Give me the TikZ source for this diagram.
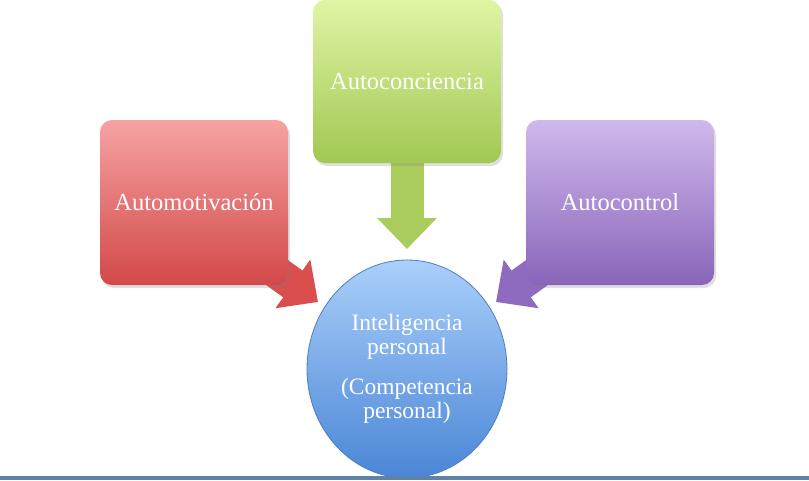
\documentclass[tikz,border=0pt]{standalone}
\usepackage{fontspec}
\setmainfont{Liberation Serif}
\usetikzlibrary{arrows.meta,shapes.geometric,shadows,backgrounds,calc}
\definecolor{redT}{HTML}{F6A3A3}
\definecolor{redB}{HTML}{D24848}
\definecolor{redA}{HTML}{DA4E4E}
\definecolor{grnT}{HTML}{DFF5A4}
\definecolor{grnB}{HTML}{A2C752}
\definecolor{grnA}{HTML}{A9CC5C}
\definecolor{purT}{HTML}{CFB9EC}
\definecolor{purB}{HTML}{8964B9}
\definecolor{purA}{HTML}{8F6BC0}
\definecolor{bluT}{HTML}{AACFFA}
\definecolor{bluB}{HTML}{4A86D6}
\definecolor{bluE}{HTML}{4F7FC0}
\definecolor{barC}{HTML}{5F82A8}
\tikzset{
  boxnode/.style={rectangle, rounded corners=12pt, inner sep=0pt,
    minimum width=188pt, text=white, font=\fontsize{24.5}{28}\selectfont,
    drop shadow={opacity=0.25, shadow xshift=2pt, shadow yshift=-3pt}},
  blockarrow/.style={line width=33pt,
    -{Triangle[length=31pt,width=58pt]}},
}
\begin{document}
\begin{tikzpicture}[x=1pt,y=-1pt]
\useasboundingbox (0,0) rectangle (809,480);
\clip (0,0) rectangle (809,480);

\node[boxnode, top color=grnT, bottom color=grnB, minimum height=163pt] (aware) at (407,81.5) {Autoconciencia};
\node[boxnode, top color=redT, bottom color=redB, minimum height=165pt] (motiv) at (194,202.5) {Automotivación};
\node[boxnode, top color=purT, bottom color=purB, minimum height=165pt] (ctrl) at (620,202.5) {Autocontrol};

\node[ellipse, minimum width=200pt, minimum height=218pt, inner sep=0pt,
  top color=bluT, bottom color=bluB, draw=bluE, line width=0.8pt,
  text=white, align=center, font=\fontsize{23.5}{24}\selectfont] (core) at (407,369)
  {Inteligencia\\personal\\[16pt](Competencia\\personal)};

\coordinate (redtip) at (318,302);
\coordinate (purtip) at (496,302);
\coordinate (grntip) at (407,249);

\begin{scope}[on background layer]
  \draw[blockarrow, draw=grnA, fill=grnA] ($(aware.south)+(0,-10)$) -- (grntip);
  \draw[blockarrow, draw=redA, fill=redA] ($(motiv.south east)+(-27,-24)$) -- (redtip);
  \draw[blockarrow, draw=purA, fill=purA] ($(ctrl.south west)+(27,-24)$) -- (purtip);
\end{scope}

\fill[barC] (0,476) rectangle (809,480);
\end{tikzpicture}
\end{document}
